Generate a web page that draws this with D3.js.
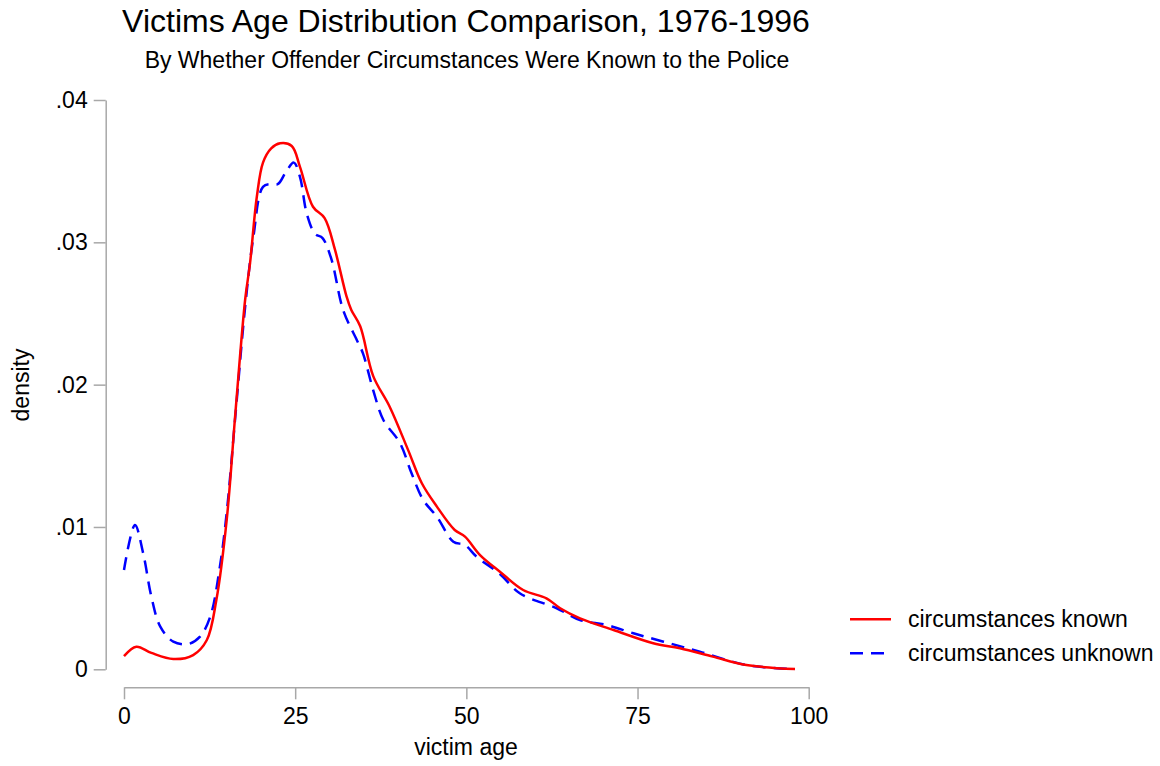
<!DOCTYPE html>
<html>
<head>
<meta charset="utf-8">
<script src="https://cdn.jsdelivr.net/npm/d3@7.9.0/dist/d3.min.js"></script>
<style>
  body { margin: 0; background: #fff; }
  svg { font-family: "Liberation Sans", Arial, sans-serif; }
  .axis path, .axis line { stroke: #a8a8a8; stroke-width: 1.5; }
  .axis text { font-size: 23px; fill: #000; }
</style>
</head>
<body>
<div id="chart"></div>
<script>
// victim age (x) and estimated density (y)
const knownAge = [0, 1.8, 4, 7.2, 10.1, 12.1, 13.5, 15, 16.3, 17.7, 18.4, 19.4, 20.3, 21.5, 22.8, 24.5, 25.7, 27.6, 29.3, 30.8, 32.5, 33.2, 34.5, 36.4, 38.8, 41.5, 43.5, 45.7, 48.3, 49.8, 52, 54.9, 58.3, 61.7, 63.7, 66.6, 71.5, 77.3, 81.2, 86, 90.9, 98];
const knownDensity = [0.00093, 0.00159, 0.00115, 0.00072, 0.001, 0.00206, 0.0049, 0.0105, 0.0182, 0.026, 0.0285, 0.0332, 0.0356, 0.0366, 0.03696, 0.03677, 0.0353, 0.0325, 0.0317, 0.0295, 0.0262, 0.02525, 0.0241, 0.0206, 0.01845, 0.0154, 0.01307, 0.01143, 0.00979, 0.00932, 0.00803, 0.00686, 0.00557, 0.00499, 0.00429, 0.00358, 0.00276, 0.00183, 0.00148, 0.00089, 0.0003, 0.00002];

const unknownAge = [0, 1.6, 2.8, 4, 5.3, 7.2, 9.4, 11.1, 12.6, 14, 15, 16.3, 17.7, 18.9, 20.3, 21.5, 22.5, 23.6, 24.8, 25.7, 26.7, 27.9, 29, 30.3, 32, 34, 34.9, 36.4, 37.9, 40.3, 42, 43.7, 45.7, 48.1, 49.8, 51.5, 54.9, 57.8, 63.2, 66.6, 70.5, 74.4, 78.8, 84.1, 90.9, 98];
const unknownDensity = [0.00698, 0.01014, 0.00815, 0.0051, 0.003, 0.00194, 0.00178, 0.00229, 0.0037, 0.0072, 0.011, 0.018, 0.0255, 0.0304, 0.0339, 0.0341, 0.0341, 0.0349, 0.0356, 0.0346, 0.032, 0.0306, 0.0303, 0.0288, 0.02525, 0.02314, 0.0222, 0.0196, 0.0175, 0.0159, 0.01377, 0.0119, 0.01072, 0.00897, 0.00873, 0.00791, 0.0067, 0.00534, 0.00429, 0.00346, 0.00311, 0.00253, 0.00194, 0.00124, 0.0003, 0.00002];

const xTicks = [0, 25, 50, 75, 100];
const yTicks = [0, 0.01, 0.02, 0.03, 0.04];
const seriesNames = ["circumstances known", "circumstances unknown"];

const width = 1160;
const height = 766;

const svg = d3.select('#chart')
  .append('svg')
  .attr('width', width)
  .attr('height', height);

const xScale = d3.scaleLinear().domain([0, 100]).range([124, 808.7]);
const yScale = d3.scaleLinear().domain([0, 0.04]).range([669.3, 100]);

// axes, offset from the plot region like the original
const xAxis = d3.axisBottom(xScale).tickValues(xTicks).tickSize(12).tickSizeOuter(0).tickPadding(8);
const yAxis = d3.axisLeft(yScale).tickValues(yTicks).tickSize(12).tickSizeOuter(0).tickPadding(6)
  .tickFormat((d) => d === 0 ? '0' : d3.format('.2f')(d).replace(/^0/, ''));

svg.append('g')
  .attr('class', 'axis')
  .attr('transform', 'translate(0, 687.3)')
  .call(xAxis);

svg.append('g')
  .attr('class', 'axis')
  .attr('transform', 'translate(105.7, 0)')
  .call(yAxis);

const known = knownAge.map((a, i) => ({ age: a, density: knownDensity[i] }));
const unknown = unknownAge.map((a, i) => ({ age: a, density: unknownDensity[i] }));

const line = d3.line()
  .x((d) => xScale(d.age))
  .y((d) => yScale(d.density))
  .curve(d3.curveCatmullRom.alpha(0.5));

svg.append('path')
  .datum(unknown)
  .attr('fill', 'none')
  .attr('stroke', '#0000ff')
  .attr('stroke-width', 2.5)
  .attr('stroke-dasharray', '13,8')
  .attr('d', line);

svg.append('path')
  .datum(known)
  .attr('fill', 'none')
  .attr('stroke', '#ff0000')
  .attr('stroke-width', 2.5)
  .attr('d', line);

// titles
svg.append('text')
  .attr('x', 466).attr('y', 32)
  .attr('text-anchor', 'middle')
  .style('font-size', '32px')
  .text('Victims Age Distribution Comparison, 1976-1996');

svg.append('text')
  .attr('x', 467).attr('y', 68)
  .attr('text-anchor', 'middle')
  .style('font-size', '23px')
  .text('By Whether Offender Circumstances Were Known to the Police');

svg.append('text')
  .attr('x', 466).attr('y', 755)
  .attr('text-anchor', 'middle')
  .style('font-size', '23px')
  .text('victim age');

svg.append('text')
  .attr('transform', 'translate(29, 385) rotate(-90)')
  .attr('text-anchor', 'middle')
  .style('font-size', '23px')
  .text('density');

// legend
const legend = svg.append('g');
const styles = [
  { color: '#ff0000', dash: null },
  { color: '#0000ff', dash: '13,8' },
];
seriesNames.forEach((name, i) => {
  const y = 619.3 + i * 34;
  legend.append('line')
    .attr('x1', 850).attr('x2', 891)
    .attr('y1', y).attr('y2', y)
    .attr('stroke', styles[i].color)
    .attr('stroke-width', 2.5)
    .attr('stroke-dasharray', styles[i].dash);
  legend.append('text')
    .attr('x', 908).attr('y', y + 8)
    .style('font-size', '23px')
    .text(name);
});
</script>
</body>
</html>
